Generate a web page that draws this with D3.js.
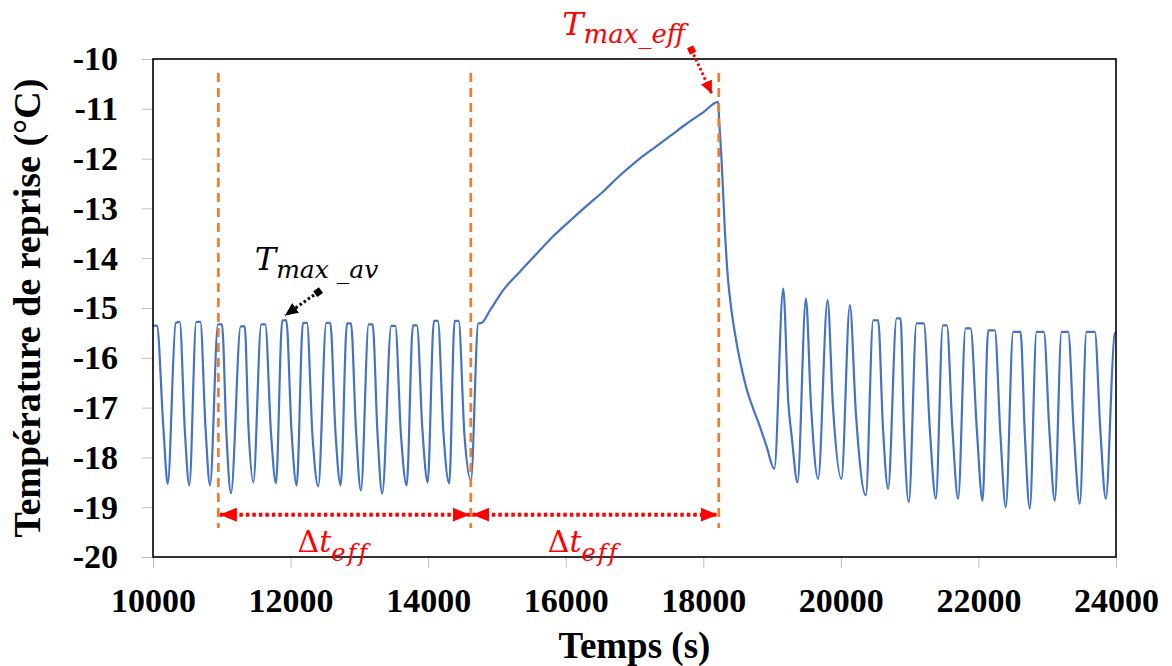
<!DOCTYPE html>
<html>
<head>
<meta charset="utf-8">
<script src="https://cdn.jsdelivr.net/npm/d3@7"></script>
<style>
    body { margin: 0; background: #fff; }
</style>
</head>
<body>
<script>
(function () {
    'use strict';

    // axis ticks
    var xTicks = [10000, 12000, 14000, 16000, 18000, 20000, 22000, 24000];
    var yTicks = [-20, -19, -18, -17, -16, -15, -14, -13, -12, -11, -10];

    // regular defrost cycles before the long effective period
    var beforeTime = [10000, 10058, 10150, 10214, 10330, 10388, 10465, 10528, 10629, 10688, 10765, 10829,
        10945, 11003, 11068, 11134, 11275, 11333, 11388, 11458, 11574, 11632, 11715, 11788,
        11879, 11938, 12013, 12089, 12180, 12238, 12318, 12403, 12519, 12577, 12653, 12728,
        12820, 12878, 12951, 13023, 13135, 13193, 13263, 13333, 13464, 13522, 13605, 13688,
        13779, 13837, 13917, 13993, 14084, 14142, 14222, 14307, 14385, 14443, 14528, 14622];
    var beforeTemp = [-15.35, -15.36, -17.39, -18.53, -15.30, -15.28, -17.52, -18.56, -15.28, -15.28, -17.45, -18.56,
        -15.33, -15.33, -17.55, -18.72, -15.37, -15.37, -17.40, -18.50, -15.33, -15.33, -17.50, -18.52,
        -15.25, -15.25, -17.45, -18.56, -15.30, -15.30, -17.55, -18.58, -15.30, -15.30, -17.50, -18.56,
        -15.31, -15.31, -17.45, -18.66, -15.33, -15.33, -17.50, -18.73, -15.36, -15.36, -17.55, -18.56,
        -15.35, -15.35, -17.45, -18.50, -15.26, -15.26, -17.50, -18.52, -15.26, -15.26, -17.55, -18.46];

    // slow rise during the effective period
    var rampTime = [14728, 14777, 14898, 15092, 15334, 15577, 15818, 16061, 16304, 16545, 16787,
        17031, 17272, 17515, 17757, 17999, 18217];
    var rampTemp = [-15.31, -15.30, -15.05, -14.64, -14.27, -13.91, -13.56, -13.25, -12.95, -12.66, -12.34,
        -12.05, -11.80, -11.55, -11.30, -11.07, -10.86];

    // pull down after the effective period
    var decayTime = [18231, 18266, 18314, 18358, 18401, 18459, 18532, 18629, 18725, 18823, 18920, 19033];
    var decayTemp = [-11.23, -12.03, -13.45, -14.40, -14.95, -15.50, -16.05, -16.62, -17.02, -17.38, -17.78, -18.23];

    // regular cycles afterwards
    var afterTime = [19162, 19236, 19287, 19370, 19492, 19564, 19670, 19807, 19884, 20008,
        20131, 20218, 20363, 20470, 20542, 20612, 20687, 20810, 20868, 20916, 20988,
        21100, 21206, 21294, 21381, 21483, 21541, 21621, 21705, 21813, 21886, 21977, 22060,
        22141, 22238, 22318, 22398, 22505, 22612, 22675, 22747, 22845, 22951, 23031, 23110,
        23208, 23305, 23387, 23474, 23571, 23692, 23772, 23852, 23982, 24000];
    var afterTemp = [-14.61, -16.90, -17.60, -18.50, -14.81, -16.90, -18.43, -14.84, -16.95, -18.43,
        -14.94, -17.10, -18.76, -15.25, -15.25, -17.40, -18.63, -15.21, -15.21, -17.35, -18.90,
        -15.31, -15.31, -17.45, -18.83, -15.35, -15.35, -17.40, -18.83, -15.41, -15.41, -17.45, -18.87,
        -15.45, -15.45, -17.50, -19.00, -15.48, -15.48, -17.55, -19.03, -15.48, -15.48, -17.45, -18.87,
        -15.48, -15.48, -17.50, -18.93, -15.48, -15.48, -17.45, -18.83, -15.51, -15.50];

    // vertical markers of the effective periods
    var markerTimes = [10950, 14620, 18225];

    var width = 1172,
        height = 666;
    var margin = {top: 59, right: 56, bottom: 109, left: 153};

    var x = d3.scaleLinear()
        .domain([10000, 24000])
        .range([margin.left, width - margin.right]);
    var y = d3.scaleLinear()
        .domain([-20, -10])
        .range([height - margin.bottom, margin.top]);

    var svg = d3.select('body')
        .append('svg')
        .attr('width', width)
        .attr('height', height)
        .style('font-family', '"Liberation Serif", "Times New Roman", serif');

    var defs = svg.append('defs');
    function arrowMarker(id, color, len, half) {
        defs.append('marker')
            .attr('id', id)
            .attr('viewBox', '0 ' + (-half) + ' ' + len + ' ' + (2 * half))
            .attr('refX', len)
            .attr('refY', 0)
            .attr('markerUnits', 'userSpaceOnUse')
            .attr('markerWidth', len)
            .attr('markerHeight', 2 * half)
            .attr('orient', 'auto-start-reverse')
            .append('path')
            .attr('d', 'M0,' + (-half) + 'L' + len + ',0L0,' + half + 'Z')
            .attr('fill', color);
    }
    function squareMarker(id, color) {
        defs.append('marker')
            .attr('id', id)
            .attr('viewBox', '-4 -4 8 8')
            .attr('refX', 0)
            .attr('refY', 0)
            .attr('markerUnits', 'userSpaceOnUse')
            .attr('markerWidth', 8)
            .attr('markerHeight', 8)
            .attr('orient', 'auto')
            .append('rect')
            .attr('x', -3.5)
            .attr('y', -3.5)
            .attr('width', 7)
            .attr('height', 7)
            .attr('fill', color);
    }
    arrowMarker('arrowBig', '#ff0000', 17, 7);
    arrowMarker('arrowRed', '#ff0000', 13, 6);
    arrowMarker('arrowBlack', '#000', 13, 6);
    squareMarker('sqRed', '#ff0000');
    squareMarker('sqBlack', '#000');

    // axes
    var yAxis = svg.append('g')
        .attr('transform', 'translate(' + margin.left + ',0)')
        .call(d3.axisLeft(y).tickValues(yTicks).tickSize(11).tickPadding(24)
            .tickFormat(function (d) { return d; }));
    var xAxis = svg.append('g')
        .attr('transform', 'translate(0,' + (height - margin.bottom) + ')')
        .call(d3.axisBottom(x).tickValues(xTicks).tickSize(11).tickPadding(20)
            .tickFormat(function (d) { return d; }));
    [xAxis, yAxis].forEach(function (g) {
        g.select('.domain').remove();
        g.selectAll('.tick line').attr('stroke', '#bfbfbf').attr('stroke-width', 1);
        g.selectAll('.tick text')
            .attr('fill', '#000')
            .style('font-family', '"Liberation Serif", "Times New Roman", serif')
            .style('font-weight', 'bold')
            .style('font-size', '34px');
    });

    svg.append('text')
        .attr('x', (x.range()[0] + x.range()[1]) / 2)
        .attr('y', 658)
        .attr('text-anchor', 'middle')
        .style('font-weight', 'bold')
        .style('font-size', '37px')
        .text('Temps (s)');
    svg.append('text')
        .attr('transform', 'translate(40,' + ((y.range()[0] + y.range()[1]) / 2) + ') rotate(-90)')
        .attr('text-anchor', 'middle')
        .style('font-weight', 'bold')
        .style('font-size', '38px')
        .text('Température de reprise (°C)');

    // temperature curve
    var times = beforeTime.concat(rampTime, decayTime, afterTime);
    var temps = beforeTemp.concat(rampTemp, decayTemp, afterTemp);
    var points = times.map(function (t, i) {
        return {t: t, v: temps[i]};
    });
    var line = d3.line()
        .x(function (d) { return x(d.t); })
        .y(function (d) { return y(d.v); })
        .curve(d3.curveMonotoneX);
    svg.append('path')
        .datum(points)
        .attr('d', line)
        .attr('fill', 'none')
        .attr('stroke', '#4472c4')
        .attr('stroke-width', 2.2)
        .attr('stroke-linejoin', 'round');

    // orange dashed limits
    svg.selectAll('line.limit')
        .data(markerTimes)
        .enter()
        .append('line')
        .attr('class', 'limit')
        .attr('x1', function (d) { return x(d); })
        .attr('x2', function (d) { return x(d); })
        .attr('y1', y(-10.28))
        .attr('y2', y(-19.42))
        .attr('stroke', '#ed7d31')
        .attr('stroke-width', 2.75)
        .attr('stroke-dasharray', '9,6');

    // frame
    svg.append('rect')
        .attr('x', x.range()[0])
        .attr('y', y.range()[1])
        .attr('width', x.range()[1] - x.range()[0])
        .attr('height', y.range()[0] - y.range()[1])
        .attr('fill', 'none')
        .attr('stroke', '#000')
        .attr('stroke-width', 1.6);

    // double arrows for the effective durations
    var spans = d3.pairs(markerTimes);
    svg.selectAll('line.span')
        .data(spans)
        .enter()
        .append('line')
        .attr('class', 'span')
        .attr('x1', function (d) { return x(d[0]) + 1.5; })
        .attr('x2', function (d) { return x(d[1]) - 1; })
        .attr('y1', y(-19.15))
        .attr('y2', y(-19.15))
        .attr('stroke', '#ff0000')
        .attr('stroke-width', 4)
        .attr('stroke-dasharray', '3.5,3')
        .attr('marker-start', 'url(#arrowBig)')
        .attr('marker-end', 'url(#arrowBig)');

    var dtLabels = svg.selectAll('text.dt')
        .data(spans)
        .enter()
        .append('text')
        .attr('class', 'dt')
        .attr('x', function (d) { return (x(d[0]) + x(d[1])) / 2 - 47; })
        .attr('y', y(-19.9))
        .attr('fill', '#ff0000')
        .style('font-family', '"DejaVu Serif", serif')
        .style('font-size', '30px');
    dtLabels.append('tspan').text('Δ');
    dtLabels.append('tspan').style('font-style', 'italic').text('t');
    dtLabels.append('tspan')
        .attr('dy', 9)
        .style('font-style', 'italic')
        .style('font-size', '24px')
        .style('letter-spacing', '2px')
        .text('eff');

    // T max annotations
    var tEff = svg.append('text')
        .attr('x', x(15950))
        .attr('y', y(-9.52))
        .attr('fill', '#ff0000')
        .style('font-family', '"DejaVu Serif", serif')
        .style('font-style', 'italic')
        .style('font-size', '32px');
    tEff.append('tspan').text('T');
    tEff.append('tspan')
        .attr('dy', 8)
        .style('font-size', '26px')
        .text('max_eff');
    svg.append('line')
        .attr('x1', x(17830))
        .attr('y1', y(-9.82))
        .attr('x2', x(18125))
        .attr('y2', y(-10.70))
        .attr('stroke', '#ff0000')
        .attr('stroke-width', 3)
        .attr('stroke-dasharray', '2.5,2.5')
        .attr('marker-start', 'url(#sqRed)')
        .attr('marker-end', 'url(#arrowRed)');

    var tAv = svg.append('text')
        .attr('x', x(11480))
        .attr('y', y(-14.24))
        .attr('fill', '#000')
        .style('font-family', '"DejaVu Serif", serif')
        .style('font-style', 'italic')
        .style('font-size', '32px');
    tAv.append('tspan').text('T');
    tAv.append('tspan')
        .attr('dy', 8)
        .style('font-size', '25px')
        .text('max _av');
    svg.append('line')
        .attr('x1', x(12400))
        .attr('y1', y(-14.68))
        .attr('x2', x(11920))
        .attr('y2', y(-15.15))
        .attr('stroke', '#000')
        .attr('stroke-width', 3)
        .attr('stroke-dasharray', '2.5,2.5')
        .attr('marker-start', 'url(#sqBlack)')
        .attr('marker-end', 'url(#arrowBlack)');
}());
</script>
</body>
</html>
